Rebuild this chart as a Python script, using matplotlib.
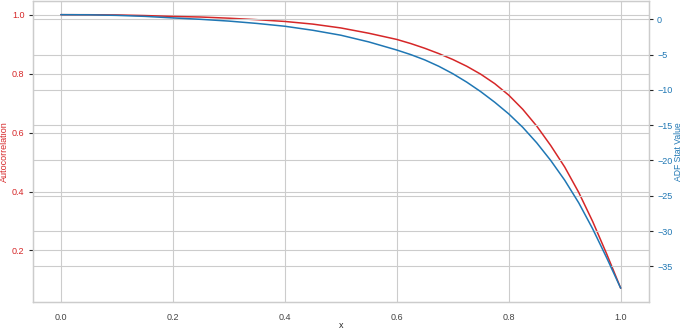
import numpy as np
import matplotlib
matplotlib.use("Agg")
import matplotlib.pyplot as plt
import seaborn as sns


# values
x_vals = [0.0, 0.05, 0.1, 0.15, 0.2, 0.25, 0.3, 0.35, 0.4, 0.45, 0.5, 0.55, 0.6,
          0.625, 0.65, 0.675, 0.7, 0.725, 0.75, 0.775, 0.8, 0.825, 0.85, 0.875,
          0.9, 0.925, 0.95, 0.975, 1.0]
autocorr = [1.000, 0.9998, 0.999, 0.997, 0.994, 0.992, 0.988, 0.983, 0.977, 0.968,
            0.955, 0.937, 0.916, 0.902, 0.886, 0.868, 0.848, 0.825, 0.798, 0.766,
            0.727, 0.679, 0.622, 0.556, 0.483, 0.397, 0.298, 0.188, 0.072]
adf_stat = [0.66, 0.64, 0.56, 0.42, 0.20, 0.0, -0.25, -0.58, -0.98, -1.55,
            -2.25, -3.2, -4.35, -5.0, -5.75, -6.65, -7.7, -8.9, -10.25, -11.75,
            -13.4, -15.3, -17.5, -20.0, -22.8, -26.0, -29.7, -33.8, -38.1]

RED = "#d62728"
BLUE = "#1f77b4"

sns.set_theme(style="whitegrid")
plt.rcParams["font.family"] = ["Liberation Sans", "DejaVu Sans"]
plt.rcParams["grid.linewidth"] = 0.8
plt.rcParams["axes.linewidth"] = 0.9
plt.rcParams["ytick.major.size"] = 3
plt.rcParams["ytick.major.width"] = 0.8
plt.rcParams["ytick.major.pad"] = 3
plt.rcParams["xtick.major.pad"] = 2

fig, ax1 = plt.subplots(figsize=(6.85, 3.31), dpi=100)
fig.subplots_adjust(left=0.048, right=0.947, bottom=0.088, top=0.997)

ax1.plot(x_vals, autocorr, color=RED, lw=1.1)
ax1.set_xlabel("x", fontsize=6.5, labelpad=-1)
ax1.set_ylabel("Autocorrelation", color=RED, fontsize=6.5, labelpad=2)
ax1.tick_params(axis="y", labelcolor=RED, labelsize=6.5)
ax1.tick_params(axis="x", labelsize=6.5, labelcolor="#444444")

ax2 = ax1.twinx()
ax2.plot(x_vals, adf_stat, color=BLUE, lw=1.1)
ax2.set_ylabel("ADF Stat Value", color=BLUE, fontsize=6.2, labelpad=1.5)
ax2.tick_params(axis="y", labelcolor=BLUE, labelsize=6.5)
ax2.set_yticks([0, -5, -10, -15, -20, -25, -30, -35])

fig.savefig("out.png", dpi=100)
